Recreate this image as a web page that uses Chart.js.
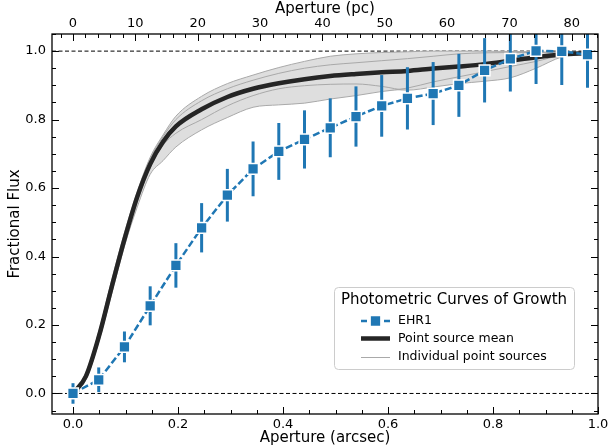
<!DOCTYPE html>
<html>
<head>
<meta charset="utf-8">
<script src="https://cdn.jsdelivr.net/npm/chart.js@4.4.1/dist/chart.umd.min.js"></script>
<style>
  html, body { margin: 0; padding: 0; background: #ffffff; }
  #wrap { width: 613px; height: 448px; }
</style>
</head>
<body>
<div id="wrap"><canvas id="cogChart" width="613" height="448"></canvas></div>
<script>
// EHR1 curve of growth (aperture in arcsec)
const ehrAperture = [0, 0.049, 0.098, 0.147, 0.196, 0.245, 0.294, 0.343, 0.392, 0.441, 0.49,
                     0.539, 0.588, 0.637, 0.686, 0.735, 0.784, 0.833, 0.882, 0.931, 0.98];
const ehrFlux = [0.0, 0.04, 0.136, 0.256, 0.374, 0.484, 0.579, 0.656, 0.707, 0.742, 0.776,
                 0.809, 0.84, 0.862, 0.876, 0.90, 0.944, 0.977, 1.001, 0.999, 0.99];
const ehrErr = [0.03, 0.036, 0.045, 0.057, 0.065, 0.072, 0.077, 0.08, 0.083, 0.085, 0.086,
                0.088, 0.09, 0.091, 0.092, 0.092, 0.094, 0.095, 0.097, 0.098, 0.097];

// point sources, sampled on a finer aperture grid
const psfAperture = [0, 0.0245, 0.049, 0.0735, 0.098, 0.1225, 0.147, 0.1715, 0.196, 0.245, 0.294,
                     0.343, 0.392, 0.441, 0.49, 0.539, 0.588, 0.637, 0.686, 0.735, 0.784, 0.833,
                     0.882, 0.931, 0.98];
const psfMean = [0, 0.05, 0.165, 0.31, 0.45, 0.575, 0.67, 0.735, 0.78, 0.83, 0.866,
                 0.89, 0.906, 0.918, 0.927, 0.933, 0.938, 0.942, 0.949, 0.955, 0.962, 0.972,
                 0.982, 0.99, 0.994];
const psfStarA = [0, 0.06, 0.18, 0.33, 0.47, 0.59, 0.69, 0.755, 0.81, 0.868, 0.905,
                  0.93, 0.952, 0.97, 0.985, 0.992, 0.996, 0.998, 1.0, 1.0, 1.0, 0.999,
                  0.998, 0.996, 0.995];
const psfStarB = [0, 0.055, 0.175, 0.325, 0.465, 0.585, 0.685, 0.75, 0.80, 0.855, 0.89,
                  0.915, 0.935, 0.95, 0.96, 0.966, 0.972, 0.978, 0.985, 0.992, 0.995, 0.996,
                  0.996, 0.995, 0.994];
const psfStarC = [0, 0.045, 0.16, 0.30, 0.44, 0.56, 0.66, 0.725, 0.76, 0.80, 0.84,
                  0.87, 0.89, 0.899, 0.903, 0.904, 0.897, 0.886, 0.895, 0.905, 0.912, 0.922,
                  0.95, 0.983, 0.994];
const psfStarD = [0, 0.04, 0.15, 0.29, 0.43, 0.545, 0.64, 0.68, 0.72, 0.77, 0.806,
                  0.836, 0.843, 0.848, 0.86, 0.87, 0.882, 0.892, 0.91, 0.925, 0.94, 0.955,
                  0.97, 0.988, 0.994];
// lower edge of the grey envelope
const psfLow = [0, 0.04, 0.15, 0.29, 0.43, 0.545, 0.64, 0.68, 0.72, 0.77, 0.806,
                0.836, 0.843, 0.848, 0.86, 0.87, 0.882, 0.886, 0.895, 0.905, 0.912, 0.922,
                0.95, 0.983, 0.994];

const refLevels = [0, 1];
const xTicks = [0, 0.2, 0.4, 0.6, 0.8, 1.0];
const yTicks = [0, 0.2, 0.4, 0.6, 0.8, 1.0];
const pcTicks = [0, 10, 20, 30, 40, 50, 60, 70, 80];

const pcPerArcsec = 84.2;
const xMin = -0.04, xMax = 1.0;
const yMin = -0.06, yMax = 1.05;

const FONT = "'DejaVu Sans', Arial, sans-serif";
const blue = '#1f77b4';

function pts(xs, ys) {
    return xs.map((x, i) => ({ x: x, y: ys[i] }));
}

const datasets = [
    {
        label: 'EHR1',
        data: pts(ehrAperture, ehrFlux),
        borderColor: blue,
        backgroundColor: blue,
        borderWidth: 2.5,
        borderDash: [7, 3],
        tension: 0,
        pointStyle: 'rect',
        pointRadius: 7.6,
        pointBorderColor: '#ffffff',
        pointBorderWidth: 1.5,
        pointBackgroundColor: blue,
        order: 0
    },
    {
        label: 'Point source mean',
        data: pts(psfAperture, psfMean),
        borderColor: '#252525',
        borderWidth: 4.5,
        cubicInterpolationMode: 'monotone',
        pointRadius: 0,
        order: 1
    }
];

[psfStarA, psfStarB, psfStarC, psfStarD].forEach(function (star) {
    datasets.push({
        label: 'Individual point sources',
        data: pts(psfAperture, star),
        borderColor: '#a9a9a9',
        borderWidth: 1,
        cubicInterpolationMode: 'monotone',
        pointRadius: 0,
        order: 2
    });
});

// envelope: top edge filled down to the low edge
const lowIndex = datasets.length + 1;
datasets.push({
    label: 'band top',
    data: pts(psfAperture, psfStarA),
    borderWidth: 0,
    borderColor: 'rgba(0,0,0,0)',
    backgroundColor: '#dedede',
    cubicInterpolationMode: 'monotone',
    pointRadius: 0,
    fill: { target: lowIndex },
    order: 3
});
datasets.push({
    label: 'band low',
    data: pts(psfAperture, psfLow),
    borderWidth: 0,
    borderColor: 'rgba(0,0,0,0)',
    cubicInterpolationMode: 'monotone',
    pointRadius: 0,
    fill: false,
    order: 3
});

refLevels.forEach(function (lvl) {
    datasets.push({
        label: 'ref',
        data: [{ x: xMin, y: lvl }, { x: xMax, y: lvl }],
        borderColor: '#000000',
        borderWidth: 1,
        borderDash: [4, 2.5],
        pointRadius: 0,
        order: 5
    });
});

// vertical error bars drawn just under the EHR1 markers
const errorBars = {
    id: 'errorBars',
    beforeDatasetDraw(chart, args) {
        if (args.index !== 0) return;
        const ctx = chart.ctx;
        const xs = chart.scales.x, ys = chart.scales.y;
        const area = chart.chartArea;
        ctx.save();
        ctx.beginPath();
        ctx.rect(area.left, area.top, area.right - area.left, area.bottom - area.top);
        ctx.clip();
        ctx.strokeStyle = blue;
        ctx.lineWidth = 3;
        ehrAperture.forEach(function (a, i) {
            const px = xs.getPixelForValue(a);
            ctx.beginPath();
            ctx.moveTo(px, ys.getPixelForValue(ehrFlux[i] - ehrErr[i]));
            ctx.lineTo(px, ys.getPixelForValue(ehrFlux[i] + ehrErr[i]));
            ctx.stroke();
        });
        ctx.restore();
    }
};

// box frame with inward major/minor ticks on all four sides
const frameTicks = {
    id: 'frameTicks',
    afterDraw(chart) {
        const ctx = chart.ctx;
        const a = chart.chartArea;
        const xs = chart.scales.x, ys = chart.scales.y, xt = chart.scales.x2;
        ctx.save();
        ctx.strokeStyle = '#000000';
        ctx.lineWidth = 1;
        function tickX(scale, v, len, top) {
            const p = Math.round(scale.getPixelForValue(v)) + 0.5;
            ctx.beginPath();
            if (top) { ctx.moveTo(p, a.top); ctx.lineTo(p, a.top + len); }
            else { ctx.moveTo(p, a.bottom); ctx.lineTo(p, a.bottom - len); }
            ctx.stroke();
        }
        function tickY(v, len) {
            const p = Math.round(ys.getPixelForValue(v)) + 0.5;
            ctx.beginPath();
            ctx.moveTo(a.left, p); ctx.lineTo(a.left + len, p);
            ctx.moveTo(a.right, p); ctx.lineTo(a.right - len, p);
            ctx.stroke();
        }
        for (let k = 0; k <= 20; k++) tickX(xs, k * 0.05, k % 4 === 0 ? 7 : 4, false);
        for (let k = -1; k <= 42; k++) {
            const v = k * 2;
            if (v < xt.min || v > xt.max) continue;
            tickX(xt, v, k % 5 === 0 ? 7 : 4, true);
        }
        for (let k = -1; k <= 21; k++) {
            const v = k * 0.05;
            if (v < yMin || v > yMax) continue;
            tickY(v, k % 4 === 0 ? 7 : 4);
        }
        ctx.lineWidth = 1.3;
        ctx.strokeRect(a.left, a.top, a.right - a.left, a.bottom - a.top);
        ctx.restore();
    }
};

// legend box in the lower right of the axes
const cogLegend = {
    id: 'cogLegend',
    afterDraw(chart) {
        const ctx = chart.ctx;
        const bx = 334, by = 287, bw = 240, bh = 82;
        ctx.save();
        ctx.beginPath();
        ctx.roundRect(bx + 0.5, by + 0.5, bw, bh, 4);
        ctx.fillStyle = 'rgba(255,255,255,0.8)';
        ctx.fill();
        ctx.strokeStyle = '#cccccc';
        ctx.lineWidth = 1;
        ctx.stroke();

        ctx.fillStyle = '#000000';
        ctx.textBaseline = 'middle';
        ctx.textAlign = 'center';
        ctx.font = '15px ' + FONT;
        ctx.fillText('Photometric Curves of Growth', bx + bw / 2, by + 13);

        ctx.textAlign = 'left';
        ctx.font = '12.5px ' + FONT;
        const rows = [by + 34, by + 51.5, by + 70];
        const hx0 = 361, hx1 = 390, tx = 398;

        // EHR1 handle
        ctx.strokeStyle = blue;
        ctx.lineWidth = 2.5;
        ctx.beginPath();
        ctx.moveTo(hx0, rows[0]); ctx.lineTo(hx0 + 6, rows[0]);
        ctx.moveTo(hx1 - 6, rows[0]); ctx.lineTo(hx1, rows[0]);
        ctx.stroke();
        ctx.fillStyle = blue;
        ctx.strokeStyle = '#ffffff';
        ctx.lineWidth = 1.5;
        ctx.beginPath();
        ctx.rect((hx0 + hx1) / 2 - 5.4, rows[0] - 5.4, 10.8, 10.8);
        ctx.fill();
        ctx.stroke();

        ctx.strokeStyle = '#252525';
        ctx.lineWidth = 4.5;
        ctx.beginPath();
        ctx.moveTo(hx0, rows[1]); ctx.lineTo(hx1, rows[1]);
        ctx.stroke();

        ctx.strokeStyle = '#a9a9a9';
        ctx.lineWidth = 1;
        ctx.beginPath();
        ctx.moveTo(hx0, rows[2] + 0.5); ctx.lineTo(hx1, rows[2] + 0.5);
        ctx.stroke();

        ctx.fillStyle = '#000000';
        ctx.fillText('EHR1', tx, rows[0]);
        ctx.fillText('Point source mean', tx, rows[1]);
        ctx.fillText('Individual point sources', tx, rows[2]);
        ctx.restore();
    }
};

new Chart(document.getElementById('cogChart'), {
    type: 'line',
    data: { datasets: datasets },
    options: {
        responsive: false,
        animation: false,
        layout: { padding: { left: 0, right: 15, top: 0, bottom: 0 } },
        plugins: {
            legend: { display: false },
            tooltip: { enabled: false }
        },
        scales: {
            x: {
                type: 'linear',
                position: 'bottom',
                min: xMin,
                max: xMax,
                afterFit: function (s) { s.height = 34; },
                afterBuildTicks: function (s) { s.ticks = xTicks.map(v => ({ value: v })); },
                ticks: {
                    color: '#000000',
                    font: { family: FONT, size: 13 },
                    padding: 3,
                    maxRotation: 0,
                    autoSkip: false,
                    callback: v => v.toFixed(1)
                },
                grid: { display: false, drawTicks: false },
                border: { display: false },
                title: {
                    display: true,
                    text: 'Aperture (arcsec)',
                    color: '#000000',
                    font: { family: FONT, size: 15 },
                    padding: { top: 0, bottom: 1 }
                }
            },
            x2: {
                type: 'linear',
                position: 'top',
                min: xMin * pcPerArcsec,
                max: xMax * pcPerArcsec,
                afterFit: function (s) { s.height = 34; },
                afterBuildTicks: function (s) { s.ticks = pcTicks.map(v => ({ value: v })); },
                ticks: {
                    color: '#000000',
                    font: { family: FONT, size: 13 },
                    padding: 3,
                    maxRotation: 0,
                    autoSkip: false,
                    callback: v => String(v)
                },
                grid: { display: false, drawTicks: false },
                border: { display: false },
                title: {
                    display: true,
                    text: 'Aperture (pc)',
                    color: '#000000',
                    font: { family: FONT, size: 15 },
                    padding: { top: 0, bottom: 0 }
                }
            },
            y: {
                type: 'linear',
                min: yMin,
                max: yMax,
                afterFit: function (s) { s.width = 52; },
                afterBuildTicks: function (s) { s.ticks = yTicks.map(v => ({ value: v })); },
                ticks: {
                    color: '#000000',
                    font: { family: FONT, size: 13 },
                    padding: 6,
                    autoSkip: false,
                    callback: v => v.toFixed(1)
                },
                grid: { display: false, drawTicks: false },
                border: { display: false },
                title: {
                    display: true,
                    text: 'Fractional Flux',
                    color: '#000000',
                    font: { family: FONT, size: 15 },
                    padding: { top: 6, bottom: 0 }
                }
            }
        }
    },
    plugins: [errorBars, frameTicks, cogLegend]
});
</script>
</body>
</html>
